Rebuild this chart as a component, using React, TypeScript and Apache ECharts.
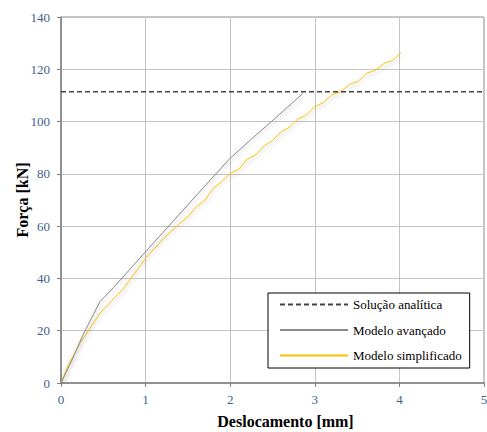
import React, { useEffect, useRef } from "react";
import * as echarts from "echarts";

const analyticLoad = 111.4;
const analyticX = [0, 5];

const advancedX = [0, 0.13, 0.26, 0.46, 0.62, 1.0, 1.25, 1.55, 2.0, 2.23, 2.47, 2.86];
const advancedY = [0, 8.8, 18.4, 31.1, 36.5, 50.2, 59.2, 70.0, 86.0, 92.7, 99.5, 110.8];

const simplifiedX = [0, 0.087, 0.225, 0.46, 0.74, 1.0, 1.21, 1.4, 1.5, 1.6, 1.7, 1.8, 1.9, 2.0, 2.1, 2.2, 2.3, 2.4, 2.5, 2.6, 2.7, 2.8, 2.9, 3.0, 3.1, 3.2, 3.3, 3.42, 3.51, 3.61, 3.71, 3.82, 3.92, 4.02];
const simplifiedY = [0, 6.9, 15.2, 26.7, 36.2, 47.7, 55.3, 61.0, 63.6, 67.4, 69.8, 74.5, 77.0, 80.2, 81.7, 85.6, 87.2, 90.7, 92.7, 96.1, 97.8, 101.0, 102.5, 105.7, 107.2, 110.2, 111.4, 114.4, 115.3, 118.5, 119.5, 122.3, 123.3, 126.4];

const seriesNames = ["Solução analítica", "Modelo avançado", "Modelo simplificado"];
const xAxisName = "Deslocamento [mm]";
const yAxisName = "Força [kN]";

const serif = "Liberation Serif";

export default function App() {
  const ref = useRef<HTMLDivElement>(null);
  useEffect(() => {
    if (!ref.current) return;
    const chart = echarts.init(ref.current, null, { renderer: "svg" });
    const shadow = { shadowColor: "rgba(0,0,0,0.28)", shadowBlur: 4, shadowOffsetY: 3 };
    chart.setOption({
      animation: false,
      textStyle: { fontFamily: serif },
      grid: {
        left: 61, right: 3, top: 17, bottom: 49,
        show: true, borderColor: "#8c8c8c", borderWidth: 1,
        containLabel: false, outerBoundsMode: "none",
      },
      legend: {
        orient: "vertical",
        left: 268,
        top: 293,
        itemWidth: 68,
        itemHeight: 14,
        itemGap: 12.5,
        padding: [5, 8, 6, 11],
        borderColor: "#000",
        borderWidth: 1,
        backgroundColor: "#fff",
        itemStyle: { opacity: 0 },
        textStyle: { fontFamily: serif, fontSize: 13, color: "#000" },
        data: seriesNames,
      },
      xAxis: {
        type: "value",
        min: 0,
        max: 5,
        interval: 1,
        name: xAxisName,
        nameLocation: "middle",
        nameGap: 30,
        nameMoveOverlap: false,
        nameTextStyle: { fontFamily: serif, fontSize: 16, fontWeight: "bold", color: "#000", padding: [0, 0, 0, 26] },
        axisLine: { lineStyle: { color: "#808080", width: 1.5 } },
        axisTick: { show: true, length: 4, lineStyle: { color: "#808080" } },
        axisLabel: { fontFamily: serif, fontSize: 13, color: "#3F5F8F", margin: 10 },
        splitLine: { show: true, lineStyle: { color: "#c4c4c4", width: 1 } },
      },
      yAxis: {
        type: "value",
        min: 0,
        max: 140,
        interval: 20,
        name: yAxisName,
        nameLocation: "middle",
        nameGap: 31,
        nameMoveOverlap: false,
        nameTextStyle: { fontFamily: serif, fontSize: 16, fontWeight: "bold", color: "#000" },
        axisLine: { show: true, lineStyle: { color: "#808080", width: 1.5 } },
        axisTick: { show: true, length: 4, lineStyle: { color: "#808080" } },
        axisLabel: { fontFamily: serif, fontSize: 13, color: "#3F5F8F", margin: 11 },
        splitLine: { show: true, lineStyle: { color: "#c4c4c4", width: 1 } },
      },
      series: [
        {
          name: seriesNames[0],
          type: "line",
          symbol: "none",
          data: analyticX.map((x) => [x, analyticLoad]),
          lineStyle: { color: "#404040", width: 1.3, type: [5, 3] },
          itemStyle: { color: "#404040" },
          z: 3,
        },
        {
          name: seriesNames[1],
          type: "line",
          symbol: "none",
          data: advancedX.map((x, i) => [x, advancedY[i]]),
          lineStyle: { color: "#8a8a8a", width: 1, ...shadow },
          itemStyle: { color: "#8a8a8a" },
          z: 4,
        },
        {
          name: seriesNames[2],
          type: "line",
          symbol: "none",
          data: simplifiedX.map((x, i) => [x, simplifiedY[i]]),
          lineStyle: { color: "#FFC000", width: 1, ...shadow },
          itemStyle: { color: "#FFC000" },
          z: 2,
        },
      ],
    });
    return () => chart.dispose();
  }, []);
  return <div ref={ref} style={{ width: 487, height: 432, position: "absolute", left: 0, top: 0 }} />;
}
